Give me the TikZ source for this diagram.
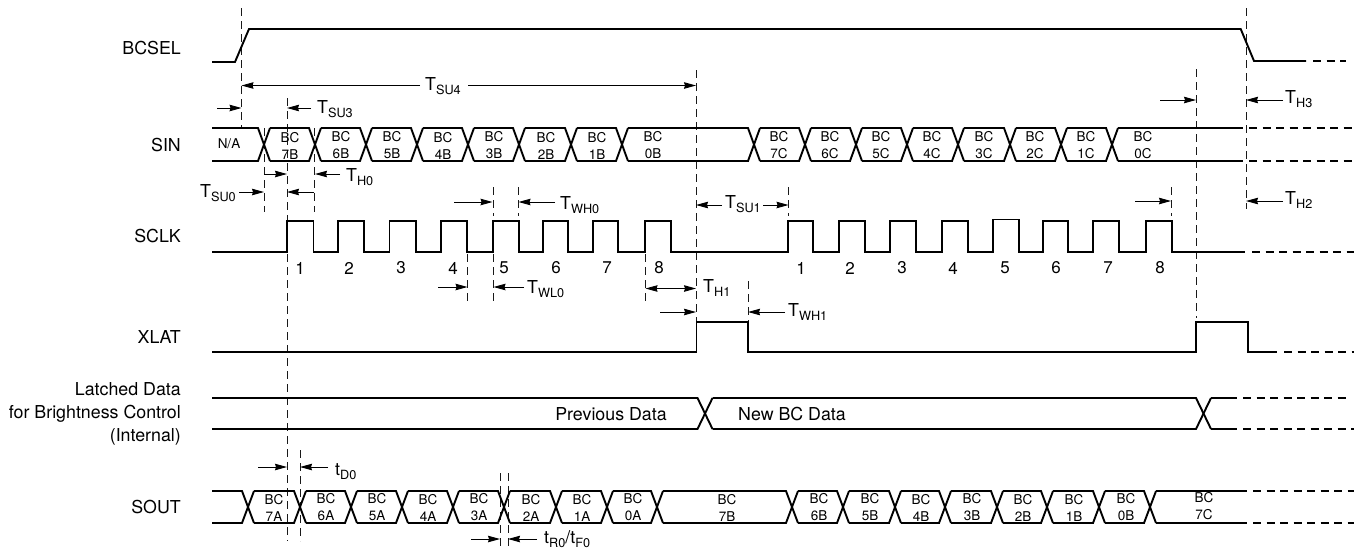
\documentclass[tikz,border=0pt]{standalone}
\usepackage{fontspec}
\setmainfont{TeX Gyre Heros}
\usetikzlibrary{arrows.meta}
\newcommand\Sub[2]{#1\raisebox{-4.5pt}{\fontsize{12.7}{13}\selectfont #2}}
\newcommand\busline[5]{% top, bottom, start, crossings, end
  \foreach \c [remember=\c as \p (initially #3)] in {#4} {
    \draw[sig] (\p+\hw,#1) -- (\c-\hw,#1) -- (\c+\hw,#2);
    \draw[sig] (\p+\hw,#2) -- (\c-\hw,#2) -- (\c+\hw,#1);
    \xdef\lastc{\c}
  }
  \draw[sig] (\lastc+\hw,#1) -- (#5,#1);
  \draw[sig] (\lastc+\hw,#2) -- (#5,#2);
}
\tikzset{
  sig/.style={line width=1.9pt,black,line join=miter},
  tail/.style={line width=1.9pt,black,dash pattern=on 8pt off 5.5pt},
  guide/.style={line width=1pt,black!90,dash pattern=on 8pt off 5pt},
  dimline/.style={line width=0.9pt,black,-{Stealth[length=12pt,width=6.5pt,inset=1pt]}},
  dimboth/.style={line width=0.9pt,black,{Stealth[length=12pt,width=6.5pt,inset=1pt]}-{Stealth[length=12pt,width=6.5pt,inset=1pt]}},
  siglabel/.style={anchor=base east,inner sep=0pt,font=\fontsize{17.8}{22}\selectfont},
  timing/.style={anchor=base west,inner sep=0pt,font=\fontsize{17.8}{21}\selectfont},
  cell/.style={inner sep=0pt,align=center,font=\fontsize{13.5}{17}\selectfont},
  num/.style={inner sep=0pt,font=\fontsize{17}{20}\selectfont},
  data/.style={anchor=base,inner sep=0pt,font=\fontsize{17.8}{21}\selectfont},
}
\begin{document}
\begin{tikzpicture}[x=1pt,y=-1pt]
\useasboundingbox (0,0) rectangle (1354,550);
\def\hw{6}
% guides
\draw[guide] (241.5,8) -- (241.5,128);
\draw[guide] (287,98) -- (287,541);
\draw[guide] (264,128) -- (264,212);
\draw[guide] (314.5,128) -- (314.5,212);
\draw[guide] (696,70) -- (696,322);
\draw[guide] (493,187) -- (493,216);
\draw[guide] (518.5,187) -- (518.5,216);
\draw[guide] (788.5,187) -- (788.5,216);
\draw[guide] (467.5,254) -- (467.5,301);
\draw[guide] (493.5,254) -- (493.5,301);
\draw[guide] (645.5,254) -- (645.5,301);
\draw[guide] (748,281) -- (748,322);
\draw[guide] (1246,8) -- (1246,209);
\draw[guide] (1196,69) -- (1196,318);
\draw[guide] (1171,187) -- (1171,216);
\draw[guide] (300,450) -- (300,541);
\draw[guide] (500,473) -- (500,548);
\draw[guide] (508,473) -- (508,548);
% BCSEL
\draw[sig] (212,62) -- (235,62) -- (249,29) -- (1240.7,29) -- (1254,61) -- (1306,61);
\draw[tail] (1313,61) -- (1346,61);
% SIN
\busline{128}{161}{206}{264,315,366,417,468,519,571,622,754,805,856,907,958,1010,1061,1112}{1243}
\draw[tail] (1249,128) -- (1354,128);
\draw[tail] (1249,161) -- (1354,161);
% SCLK
\draw[sig] (212,252) -- (287,252) -- (287,221) -- (313.5,221) -- (313.5,252)
  -- (338,252) -- (338,221) -- (364,221) -- (364,252)
  -- (389.5,252) -- (389.5,221) -- (416,221) -- (416,252)
  -- (441,252) -- (441,221) -- (467,221) -- (467,252)
  -- (493,252) -- (493,221) -- (519,221) -- (519,252)
  -- (543,252) -- (543,221) -- (568,221) -- (568,252)
  -- (593,252) -- (593,221) -- (618,221) -- (618,252)
  -- (645,252) -- (645,221) -- (671,221) -- (671,252)
  -- (788,252) -- (788,221) -- (813,221) -- (813,252)
  -- (839,252) -- (839,221) -- (865,221) -- (865,252)
  -- (890,252) -- (890,221) -- (916,221) -- (916,252)
  -- (942,252) -- (942,221) -- (968,221) -- (968,252)
  -- (993,252) -- (993,219.5) -- (1019,219.5) -- (1019,252)
  -- (1043,252) -- (1043,221) -- (1068,221) -- (1068,252)
  -- (1093,252) -- (1093,221) -- (1119,221) -- (1119,252)
  -- (1146,252) -- (1146,221) -- (1172,221) -- (1172,252)
  -- (1245,252);
\draw[tail] (1252,252) -- (1354,252);
% XLAT
\draw[sig] (212,352) -- (696.5,352) -- (696.5,322) -- (748,322) -- (748,352)
  -- (1196,352) -- (1196,322) -- (1248,322) -- (1248,352) -- (1277,352);
\draw[tail] (1284,352) -- (1354,352);
% Latched data
\def\hw{7.5}
\busline{398}{429}{204.5}{705,1203.5}{1237}
\draw[tail] (1243,398) -- (1346,398);
\draw[tail] (1243,429) -- (1354,429);
% SOUT
\def\hw{6}
\busline{491}{523}{206}{248,300,351,402,453,504,556,607,657,792,843,895,945,997,1047,1099,1150}{1247}
\draw[tail] (1253,491) -- (1354,491);
\draw[tail] (1253,523) -- (1354,523);
% signal names
\node[siglabel] (nBCSEL) at (181,54) {BCSEL};
\node[siglabel] (nSIN) at (181,151) {SIN};
\node[siglabel] (nSCLK) at (181,242) {SCLK};
\node[siglabel] (nXLAT) at (181,343) {XLAT};
\node[siglabel] (nLatA) at (181,395) {Latched Data};
\node[siglabel] (nLatB) at (181,418) {for Brightness Control};
\node[siglabel] (nLatC) at (181,441) {(Internal)};
\node[siglabel] (nSOUT) at (181,513) {SOUT};
% cells
\node[cell] (cNA) at (229,144) {N/A};
\foreach \x/\t in {290/7B,341/6B,392/5B,443/4B,494/3B,546/2B,597/1B,653/0B,779/7C,830/6C,881/5C,932/4C,984/3C,1035/2C,1086/1C,1143/0C}
  \node[cell] (s\t) at (\x,145.5) {BC\\\t};
\foreach \x/\t in {274/7A,326/6A,377/5A,428/4A,479/3A,531/2A,582/1A,633/0A,727/7B,819/6B,870/5B,921/4B,972/3B,1023/2B,1074/1B,1126/0B}
  \node[cell] (o\t) at (\x,507.5) {BC\\\t};
\node[cell] (o7C) at (1204,506.5) {BC\\7C};
% clock numbers
\foreach \x/\t [count=\i] in {300/1,349/2,401/3,453/4,504/5,556/6,607/7,659/8,801/1,850/2,902/3,953/4,1005/5,1056/6,1108/7,1160/8}
  \node[num] (k\i) at (\x,268) {\t};
% data text
\node[data] (prev) at (611,420) {Previous Data};
\node[data] (newd) at (792,420) {New BC Data};
% timing labels
\node[timing] (tSUf) at (425,90) {\Sub{T}{SU4}};
\node[timing] (tSUt) at (317,113) {\Sub{T}{SU3}};
\node[timing] (tHz) at (346,181) {\Sub{T}{H0}};
\node[timing] (tSUz) at (200,197) {\Sub{T}{SU0}};
\node[timing] (tWHz) at (560,209) {\Sub{T}{WH0}};
\node[timing] (tSUo) at (725,208) {\Sub{T}{SU1}};
\node[timing] (tWLz) at (527,293) {\Sub{T}{WL0}};
\node[timing] (tHo) at (703,292) {\Sub{T}{H1}};
\node[timing] (tWHo) at (788,316) {\Sub{T}{WH1}};
\node[timing] (tHth) at (1285,103) {\Sub{T}{H3}};
\node[timing] (tHtw) at (1285,204) {\Sub{T}{H2}};
\node[timing] (tDz) at (335,475) {\Sub{t}{D0}};
\node[timing] (tRF) at (544,543) {\Sub{t}{R0}/\Sub{t}{F0}};
% arrows
\draw[dimline] (420,85.5) -- (241.5,85.5);
\draw[dimline] (468,85.5) -- (696,85.5);
\draw[dimline] (217,108) -- (241.5,108);
\draw[dimline] (311,108) -- (287,108);
\draw[dimline] (264,174) -- (287,174);
\draw[dimline] (340,174) -- (315,174);
\draw[dimline] (239,192) -- (264,192);
\draw[dimline] (314,192) -- (287,192);
\draw[dimline] (454,202) -- (492.5,202);
\draw[dimline] (555,202) -- (518.5,202);
\draw[dimline] (722,205) -- (696,205);
\draw[dimline] (763,205) -- (788.5,205);
\draw[dimline] (438,287) -- (467.5,287);
\draw[dimline] (524,287) -- (493.5,287);
\draw[dimboth] (645.5,288.5) -- (696,288.5);
\draw[dimline] (660,312) -- (696,312);
\draw[dimline] (785,312) -- (748,312);
\draw[dimline] (1160,100) -- (1196,100);
\draw[dimline] (1283,100) -- (1246,100);
\draw[dimline] (1135,201) -- (1171,201);
\draw[dimline] (1283,201) -- (1246,201);
\draw[dimline] (258,467) -- (287,467);
\draw[dimline] (328,467) -- (300,467);
\draw[dimline] (471,539) -- (500,539);
\draw[dimline] (537,539) -- (508,539);
\end{tikzpicture}
\end{document}
